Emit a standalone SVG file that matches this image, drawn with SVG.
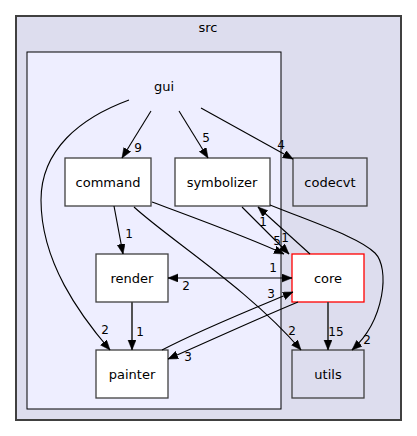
<svg xmlns="http://www.w3.org/2000/svg" width="417" height="436" viewBox="0 0 417 436">
<style>
text{font-family:"DejaVu Sans",sans-serif;fill:#000;text-anchor:middle}
.nt{font-size:13px}
.lt{font-size:12px}
.node{fill:#fff;stroke:#404040;stroke-width:1.3}
.dnode{fill:#ddddee;stroke:#404040;stroke-width:1.3}
.e{fill:none;stroke:#000;stroke-width:1.1;marker-end:url(#ah)}
.s{fill:none;stroke:#404040;stroke-width:1.8;marker-end:url(#ah)}
</style>
<defs>
<marker id="ah" markerUnits="userSpaceOnUse" markerWidth="11" markerHeight="9" refX="10" refY="4" orient="auto-start-reverse" viewBox="0 0 11 9">
<path d="M0,0 L10,4 L0,8 z" fill="#000" stroke="#000" stroke-width="0.5"/>
</marker>
</defs>
<g id="cluster_src">
<rect x="16" y="16" width="385" height="404" fill="#ddddee" stroke="#404040" stroke-width="2"/>
<text class="nt" x="208" y="32">src</text>
</g>
<g id="cluster_gui">
<rect x="27" y="52" width="254" height="357" fill="#eeeeff" stroke="#000" stroke-width="1"/>
<text class="nt" x="164" y="91">gui</text>
</g>
<g id="node_command"><rect class="node" x="65" y="158" width="86" height="48"/><text class="nt" x="108" y="187">command</text></g>
<g id="node_symbolizer"><rect class="node" x="175" y="158" width="95" height="48"/><text class="nt" x="222" y="187">symbolizer</text></g>
<g id="node_codecvt"><rect class="dnode" x="293" y="158" width="74" height="48"/><text class="nt" x="330" y="187">codecvt</text></g>
<g id="node_render"><rect class="node" x="96" y="254" width="72" height="48"/><text class="nt" x="132" y="283">render</text></g>
<g id="node_core"><rect x="292" y="254" width="72" height="48" fill="#fff" stroke="#ff0000" stroke-width="1.3"/><text class="nt" x="328" y="283">core</text></g>
<g id="node_painter"><rect class="node" x="96" y="350" width="72" height="48"/><text class="nt" x="132" y="379">painter</text></g>
<g id="node_utils"><rect class="dnode" x="292" y="350" width="72" height="48"/><text class="nt" x="328" y="379">utils</text></g>
<g id="edges">
<path class="e" d="M129,100 C80,118 41,150 41,200 C41,262 80,315 110,350"/>
<path class="e" d="M151,111 L122,158"/>
<path class="e" d="M179,111 L208,158"/>
<path class="e" d="M201,108 L293,159"/>
<path class="e" d="M114,206 L123,254"/>
<path class="e" d="M152,202 C200,220 250,238 284,254"/>
<path class="e" d="M242,207 L289,254"/>
<path class="e" d="M310,254 L258,207"/>
<path class="e" d="M134,207 C170,240 250,290 301,350"/>
<path class="e" d="M270,205 C320,225 360,238 375,253 C390,268 385,320 352,350"/>
<path class="e" d="M168,278 L292,278" style="marker-start:url(#ah)"/>
<path class="s" d="M132,302 L132,350"/>
<path class="e" d="M162,350 C200,330 250,310 293,292"/>
<path class="e" d="M298,302 C250,322 205,343 168,359"/>
<path class="s" d="M328,302 L328,350"/>
<text class="lt" x="105" y="334">2</text>
<text class="lt" x="138" y="152">9</text>
<text class="lt" x="206" y="142">5</text>
<text class="lt" x="281" y="149">4</text>
<text class="lt" x="129" y="238">1</text>
<text class="lt" x="277" y="245">5</text>
<text class="lt" x="285" y="242">1</text>
<text class="lt" x="263" y="226">1</text>
<text class="lt" x="292" y="335">2</text>
<text class="lt" x="367" y="344">2</text>
<text class="lt" x="273" y="272">1</text>
<text class="lt" x="186" y="290">2</text>
<text class="lt" x="140" y="336">1</text>
<text class="lt" x="271" y="298">3</text>
<text class="lt" x="188" y="361">3</text>
<text class="lt" x="336" y="336">15</text>
</g>
</svg>
